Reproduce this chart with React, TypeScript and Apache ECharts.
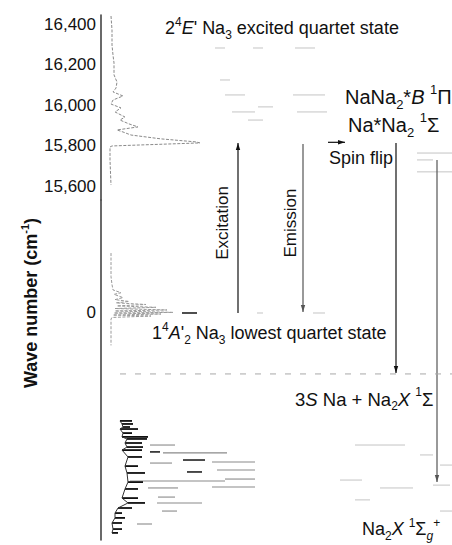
import React, { useEffect, useRef } from "react";
import * as echarts from "echarts";

// ---- axis ranges (cm^-1) ----
const UPPER_MIN = 15533;
const UPPER_MAX = 16447;
const LOWER_MIN = -1121;
const LOWER_MAX = 558;
const X_MAX = 351;

const upperTicks = [15600, 15800, 16000, 16200, 16400];
const lowerTicks = [0];

// excitation spectrum of the 2^4E' state (intensity, wave number)
const upperIntensity = [10, 11, 11, 12, 13, 13, 16, 15, 12, 22, 12, 10, 20, 14, 24, 19, 28, 37, 16, 22, 30, 60, 95, 99, 40, 11, 9, 9, 10];
const upperWavenumber = [16442, 16373, 16299, 16249, 16210, 16151, 16116, 16086, 16067, 16047, 16027, 16007, 15988, 15968, 15943, 15928, 15909, 15894, 15879, 15869, 15854, 15835, 15820, 15815, 15805, 15800, 15795, 15731, 15607];

// emission structure around the lowest quartet state
const lowerIntensity = [10, 10, 11, 12, 20, 13, 22, 14, 28, 15, 45, 16, 55, 14, 66, 14, 72, 13, 60, 12, 50, 11, 10, 10];
const lowerWavenumber = [296, 180, 140, 114, 100, 92, 76, 66, 57, 50, 42, 35, 28, 22, 15, 10, 3, 0, -5, -10, -15, -22, -30, -160];

// Na2 X vibrational progression: [start, end, wave number]
const na2DarkLevels = [
  [19, 31, -533], [21, 32, -548], [22, 29, -563], [19, 37, -573], [22, 31, -593], [21, 47, -612],
  [26, 46, -622], [24, 41, -642], [26, 42, -662], [21, 41, -677], [27, 41, -711], [24, 37, -756],
  [26, 44, -790], [27, 42, -835], [24, 37, -869], [21, 37, -914], [27, 44, -938], [17, 31, -963],
  [14, 21, -988], [14, 24, -1012], [11, 21, -1037], [12, 21, -1067], [11, 17, -1086],
];
const darkSegments = [[49, 59, -686], [82, 104, -726], [86, 101, -785], [81, 96, 0]];
const na2GrayLevels = [
  [49, 74, -652], [62, 126, -691], [111, 154, -736], [49, 71, -741], [116, 154, -775], [124, 154, -820],
  [29, 124, -830], [111, 154, -859], [47, 77, -864], [57, 74, -909], [56, 101, -938], [61, 76, -978],
  [36, 51, -1042],
];
const lowerFaintLevels = [
  [254, 304, -652], [319, 332, -701], [339, 351, -751], [239, 261, -825], [279, 312, -864],
  [332, 349, -850], [254, 269, -923], [339, 351, -978], [156, 162, 0], [212, 224, 0],
];
const upperFaintLevels = [
  [114, 124, 16284], [152, 162, 16284], [194, 214, 16284], [119, 129, 16126], [124, 144, 16052],
  [192, 224, 16052], [157, 172, 15993], [131, 154, 15968], [196, 226, 15968], [147, 162, 15928],
  [316, 351, 15765], [316, 332, 15731], [316, 351, 15672],
];
const dissociationLevel = [[19, -301], [351, -301]];

// arrows: [x0, y0, x1, y1, head, tone]
const upperArrows = [
  [137, UPPER_MIN, 137, 15815, 1, 0],
  [202, 15810, 202, UPPER_MIN, 0, 1],
  [295, 15815, 295, UPPER_MIN, 0, 0],
  [336, 15731, 336, UPPER_MIN, 0, 1],
  [227, 15818, 244, 15818, 1, 0],
];
const lowerArrows = [
  [137, 0, 137, LOWER_MAX, 0, 0],
  [202, LOWER_MAX, 202, 5, 1, 1],
  [295, LOWER_MAX, 295, -296, 1, 0],
  [336, LOWER_MAX, 336, -835, 1, 1],
];

const FONT = "'Liberation Sans', Arial, Helvetica, sans-serif";

const zip = (a: number[], b: number[]) => a.map((v, i) => [v, b[i]]);

const levelRender = (color: string, width: number) => (params: any, api: any) => {
  const p1 = api.coord([api.value(0), api.value(2)]);
  const p2 = api.coord([api.value(1), api.value(2)]);
  return {
    type: "line",
    shape: { x1: p1[0], y1: p1[1], x2: p2[0], y2: p2[1] },
    style: { stroke: color, lineWidth: width },
  };
};

const arrowRender = (params: any, api: any) => {
  const p1 = api.coord([api.value(0), api.value(1)]);
  const p2 = api.coord([api.value(2), api.value(3)]);
  const head = api.value(4);
  const color = api.value(5) ? "#555" : "#111";
  const children: any[] = [
    {
      type: "line",
      shape: { x1: p1[0], y1: p1[1], x2: p2[0], y2: p2[1] },
      style: { stroke: color, lineWidth: 1.2 },
    },
  ];
  if (head) {
    const dx = p2[0] - p1[0];
    const dy = p2[1] - p1[1];
    const len = Math.sqrt(dx * dx + dy * dy) || 1;
    const ux = dx / len;
    const uy = dy / len;
    const L = 7;
    const W = 2.2;
    children.push({
      type: "polygon",
      shape: {
        points: [
          [p2[0], p2[1]],
          [p2[0] - ux * L - uy * W, p2[1] - uy * L + ux * W],
          [p2[0] - ux * L + uy * W, p2[1] - uy * L - ux * W],
        ],
      },
      style: { fill: color },
    });
  }
  return { type: "group", children };
};

const richFor = (size: number) => {
  const s = Math.round(size * 0.64);
  const lh = Math.round(size * 1.4);
  return {
    n: { fontSize: size, fontFamily: FONT, lineHeight: lh, verticalAlign: "middle", fill: "#111" },
    i: { fontSize: size, fontFamily: FONT, fontStyle: "italic", lineHeight: lh, verticalAlign: "middle", fill: "#111" },
    sup: { fontSize: s, fontFamily: FONT, lineHeight: s + 1, verticalAlign: "top", fill: "#111" },
    sub: { fontSize: s, fontFamily: FONT, lineHeight: s - 1, verticalAlign: "bottom", fill: "#111" },
    subi: { fontSize: s, fontFamily: FONT, fontStyle: "italic", lineHeight: s - 1, verticalAlign: "bottom", fill: "#111" },
  };
};

const label = (text: string, x: number, y: number, size: number, extra: any = {}) => ({
  type: "text",
  x,
  y,
  rotation: extra.rotation || 0,
  style: {
    text,
    rich: richFor(size),
    font: `${size}px ${FONT}`,
    fill: "#111",
    align: extra.center ? "center" : "left",
    verticalAlign: "middle",
    textAlign: extra.center ? "center" : "left",
    textVerticalAlign: "middle",
  },
});

export default function App() {
  const ref = useRef<HTMLDivElement>(null);
  useEffect(() => {
    if (!ref.current) return;
    const chart = echarts.init(ref.current, undefined, { renderer: "svg" });
    const axisLine = { show: true, lineStyle: { color: "#444", width: 1.6 } };
    const axisLabel = {
      fontSize: 17,
      fontFamily: FONT,
      color: "#111",
      margin: 5,
      formatter: (v: number) => v.toLocaleString("en-US"),
    };
    // jagged left edge of the Na2 progression, joining the start of each dark stroke
    const na2Edge = na2DarkLevels.map((l) => [l[0], l[2]]);
    chart.setOption({
      animation: false,
      backgroundColor: "#fff",
      grid: [
        { left: 101, right: 0, top: 15, height: 185, outerBoundsMode: "none" },
        { left: 101, right: 0, top: 200, height: 340, outerBoundsMode: "none" },
      ],
      xAxis: [
        { gridIndex: 0, type: "value", min: 0, max: X_MAX, show: false },
        { gridIndex: 1, type: "value", min: 0, max: X_MAX, show: false },
      ],
      yAxis: [
        {
          gridIndex: 0, type: "value", min: UPPER_MIN, max: UPPER_MAX,
          axisLine, axisTick: { show: false }, splitLine: { show: false },
          axisLabel: { ...axisLabel, customValues: upperTicks },
        },
        {
          gridIndex: 1, type: "value", min: LOWER_MIN, max: LOWER_MAX,
          axisLine, axisTick: { show: false }, splitLine: { show: false },
          axisLabel: { ...axisLabel, customValues: lowerTicks },
        },
      ],
      series: [
        {
          type: "line", xAxisIndex: 0, yAxisIndex: 0, data: zip(upperIntensity, upperWavenumber),
          symbol: "none", silent: true,
          lineStyle: { color: "#8a8a8a", width: 1, type: [3, 1.5] },
        },
        {
          type: "line", xAxisIndex: 1, yAxisIndex: 1, data: zip(lowerIntensity, lowerWavenumber),
          symbol: "none", silent: true,
          lineStyle: { color: "#9a9a9a", width: 1, type: [3, 1.5] },
        },
        {
          type: "line", xAxisIndex: 1, yAxisIndex: 1, data: dissociationLevel,
          symbol: "none", silent: true,
          lineStyle: { color: "#a8a8a8", width: 1, type: [6, 9] },
        },
        {
          type: "custom", xAxisIndex: 0, yAxisIndex: 0, data: upperFaintLevels, silent: true,
          encode: { x: [0, 1], y: 2 }, renderItem: levelRender("#c4c4c4", 1),
        },
        {
          type: "custom", xAxisIndex: 1, yAxisIndex: 1, data: lowerFaintLevels, silent: true,
          encode: { x: [0, 1], y: 2 }, renderItem: levelRender("#c4c4c4", 1),
        },
        {
          type: "custom", xAxisIndex: 1, yAxisIndex: 1, data: na2GrayLevels, silent: true,
          encode: { x: [0, 1], y: 2 }, renderItem: levelRender("#8a8a8a", 1.1),
        },
        {
          type: "line", xAxisIndex: 1, yAxisIndex: 1, data: na2Edge,
          symbol: "none", silent: true,
          lineStyle: { color: "#333", width: 1 },
        },
        {
          type: "custom", xAxisIndex: 1, yAxisIndex: 1, data: na2DarkLevels, silent: true,
          encode: { x: [0, 1], y: 2 }, renderItem: levelRender("#111", 1.8),
        },
        {
          type: "custom", xAxisIndex: 1, yAxisIndex: 1, data: darkSegments, silent: true,
          encode: { x: [0, 1], y: 2 }, renderItem: levelRender("#222", 1.6),
        },
        {
          type: "custom", xAxisIndex: 0, yAxisIndex: 0, data: upperArrows, silent: true,
          encode: { x: [0, 2], y: [1, 3] }, renderItem: arrowRender, clip: false,
        },
        {
          type: "custom", xAxisIndex: 1, yAxisIndex: 1, data: lowerArrows, silent: true,
          encode: { x: [0, 2], y: [1, 3] }, renderItem: arrowRender, clip: false,
        },
      ],
      graphic: [
        label("{n|2}{sup|4}{i|E}{n|' Na}{sub|3}{n| excited quartet state}", 165, 28, 18),
        label("{n|NaNa}{sub|2}{n|*}{i|B}{n| }{sup|1}{n|Π}", 345, 97, 20),
        label("{n|Na*Na}{sub|2}{n| }{sup|1}{n|Σ}", 348, 125, 20),
        label("{n|Spin flip}", 329, 158, 18),
        label("{n|Excitation}", 222, 223, 17, { rotation: Math.PI / 2, center: true }),
        label("{n|Emission}", 290, 223, 17, { rotation: Math.PI / 2, center: true }),
        label("{n|1}{sup|4}{i|A}{n|'}{sub|2}{n| Na}{sub|3}{n| lowest quartet state}", 152, 333, 18),
        label("{n|3}{i|S}{n| Na + Na}{sub|2}{i|X}{n| }{sup|1}{n|Σ}", 295, 399, 18.5),
        label("{n|Na}{sub|2}{i|X}{n| }{sup|1}{n|Σ}{subi|g}{sup|+}", 362, 529, 18),
        {
          type: "text",
          x: 31,
          y: 303,
          rotation: Math.PI / 2,
          style: {
            text: "{b|Wave number (cm}{bs|-1}{b|)}",
            rich: {
              b: { fontSize: 18, fontWeight: "bold", fontFamily: FONT, lineHeight: 24, verticalAlign: "middle", fill: "#111" },
              bs: { fontSize: 11, fontWeight: "bold", fontFamily: FONT, lineHeight: 12, verticalAlign: "top", fill: "#111" },
            },
            align: "center",
            verticalAlign: "middle",
            textAlign: "center",
            textVerticalAlign: "middle",
          },
        },
      ],
    });
    return () => chart.dispose();
  }, []);
  return (
    <div
      ref={ref}
      style={{ position: "absolute", left: 0, top: 0, width: 452, height: 545, background: "#fff" }}
    />
  );
}
